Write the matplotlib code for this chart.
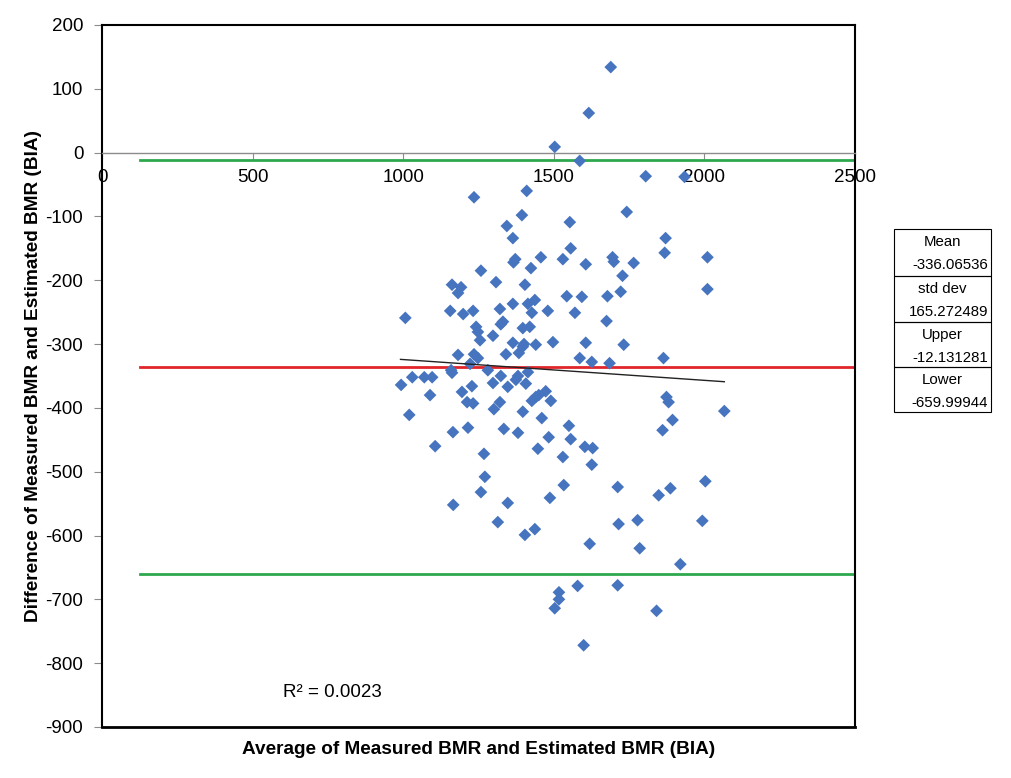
import matplotlib
matplotlib.use('Agg')
import matplotlib.pyplot as plt
from matplotlib.patches import Rectangle

plt.rcParams['font.family'] = ['Liberation Sans', 'DejaVu Sans']

# ---- data ----
avg_bmr = [1689, 1616, 1503, 1586, 1805, 1934, 1742, 1553, 1871, 1556,
           1235, 1410, 1394, 1344, 1364, 1372, 1366, 1457, 1530, 1606,
           1695, 1699, 1424, 1258, 1308, 1404, 1162, 1192, 1182, 1728,
           1722, 1543, 1593, 1678, 1364, 1414, 1437, 1427, 1480, 1570,
           1156, 1199, 1232, 1321, 1007, 1675, 1324, 1331, 1242, 1248,
           1255, 1298, 1397, 1420, 1364, 1401, 1397, 1440, 1497, 1606,
           1732, 1182, 1235, 1248, 1341, 1384, 1586, 1626, 1685, 1868,
           2010, 1765, 2010, 1864, 1222, 1159, 1162, 1281, 1324, 1381,
           1374, 1414, 1030, 1070, 1096, 993, 1228, 1298, 1347, 1407,
           1089, 1195, 1212, 1232, 1321, 1301, 1427, 1440, 1450, 1473,
           1490, 1020, 1397, 1460, 1550, 1165, 1215, 1334, 1381, 1483,
           1556, 1106, 1447, 1603, 1629, 1268, 1530, 1626, 1271, 1533,
           1712, 1258, 1487, 1166, 1347, 1715, 1314, 1404, 1437, 1619,
           1874, 1881, 1894, 1861, 2066, 1848, 1887, 2003, 1778, 1785,
           1993, 1920, 1517, 1517, 1503, 1579, 1712, 1841, 1599]
diff_bmr = [134, 62, 9, -13, -37, -38, -93, -109, -134, -150,
            -70, -60, -98, -115, -134, -167, -172, -164, -167, -175,
            -164, -171, -181, -185, -203, -207, -207, -211, -220, -193,
            -218, -225, -226, -225, -237, -237, -231, -251, -248, -251,
            -248, -253, -248, -245, -259, -264, -269, -265, -273, -281,
            -294, -287, -275, -273, -298, -300, -304, -301, -297, -298,
            -301, -317, -316, -322, -316, -314, -322, -328, -330, -157,
            -164, -173, -214, -322, -331, -341, -345, -341, -350, -350,
            -356, -344, -352, -352, -352, -364, -366, -361, -367, -362,
            -380, -375, -391, -393, -391, -402, -389, -383, -380, -374,
            -389, -411, -406, -416, -428, -438, -431, -433, -439, -446,
            -449, -460, -464, -461, -463, -472, -477, -489, -508, -521,
            -524, -532, -541, -552, -549, -582, -579, -599, -590, -613,
            -383, -391, -419, -435, -405, -537, -526, -515, -576, -620,
            -577, -645, -689, -700, -714, -679, -678, -718, -772]

mean_diff = -336.06536
std_dev = 165.272489
upper_loa = -12.131281
lower_loa = -659.99944
line_x = [125, 2500]

trend_x = [991, 2066]
trend_y = [-324, -359]
r_squared = "R² = 0.0023"

x_ticks = [0, 500, 1000, 1500, 2000, 2500]
y_ticks = list(range(-900, 201, 100))

table_labels = ["Mean", "std dev", "Upper", "Lower"]
table_values = ["-336.06536", "165.272489", "-12.131281", "-659.99944"]

# ---- figure ----
fig = plt.figure(figsize=(10.12, 7.78), dpi=100)
ax = fig.add_axes([0.1008, 0.0656, 0.7441, 0.9023])
ax.set_xlim(0, 2500)
ax.set_ylim(-900, 200)

ax.plot(line_x, [upper_loa] * 2, color='#2EA84E', lw=2, zorder=2)
ax.plot(line_x, [lower_loa] * 2, color='#2EA84E', lw=2, zorder=2)
ax.plot(line_x, [mean_diff] * 2, color='#E0262B', lw=2, zorder=2)
ax.scatter(avg_bmr, diff_bmr, marker='D', s=42, color='#4774BF',
           edgecolors='none', zorder=3)
ax.plot(trend_x, trend_y, color='#222222', lw=1, zorder=4)

ax.text(600, -846, r_squared, fontsize=13.5, va='center', ha='left')

# spines
for s in ['top', 'left', 'right']:
    ax.spines[s].set_color('black')
    ax.spines[s].set_linewidth(1.5)
ax.spines['bottom'].set_position(('data', 0))
ax.spines['bottom'].set_color('#8C8C8C')
ax.spines['bottom'].set_linewidth(1)
ax.axhline(-900, color='black', lw=2, clip_on=False, zorder=5)

ax.set_xticks(x_ticks)
ax.set_xticklabels([str(v) for v in x_ticks])
ax.set_yticks(y_ticks)
ax.set_yticklabels([str(v) for v in y_ticks])
ax.tick_params(axis='x', direction='out', length=5, color='#8C8C8C',
               labelsize=13.5, pad=7)
ax.tick_params(axis='y', direction='out', length=6, color='#8C8C8C',
               labelsize=13.5, pad=7.5)

ax.set_ylabel("Difference of Measured BMR and Estimated BMR (BIA)",
              fontsize=13.7, fontweight='bold')
ax.yaxis.set_label_coords(-0.080, 0.5)
fig.text(0.4728, 1 - 750 / 778, "Average of Measured BMR and Estimated BMR (BIA)",
         fontsize=13.7, fontweight='bold', ha='center', va='center')

# stats table
W, H = 1012, 778
tx0, tx1 = 894, 991
rows = [229, 276, 322, 367, 412]
for i in range(4):
    top, bot = rows[i], rows[i + 1]
    fig.patches.append(Rectangle((tx0 / W, 1 - bot / H), (tx1 - tx0) / W,
                                 (bot - top) / H, transform=fig.transFigure,
                                 fill=False, edgecolor='black', lw=0.8))
    fig.text((tx0 + tx1) / 2 / W, 1 - (top + 13) / H, table_labels[i],
             fontsize=10.8, ha='center', va='center')
    fig.text((tx1 - 3) / W, 1 - (top + 36) / H, table_values[i],
             fontsize=10.8, ha='right', va='center')

fig.savefig('out.png', dpi=100)
